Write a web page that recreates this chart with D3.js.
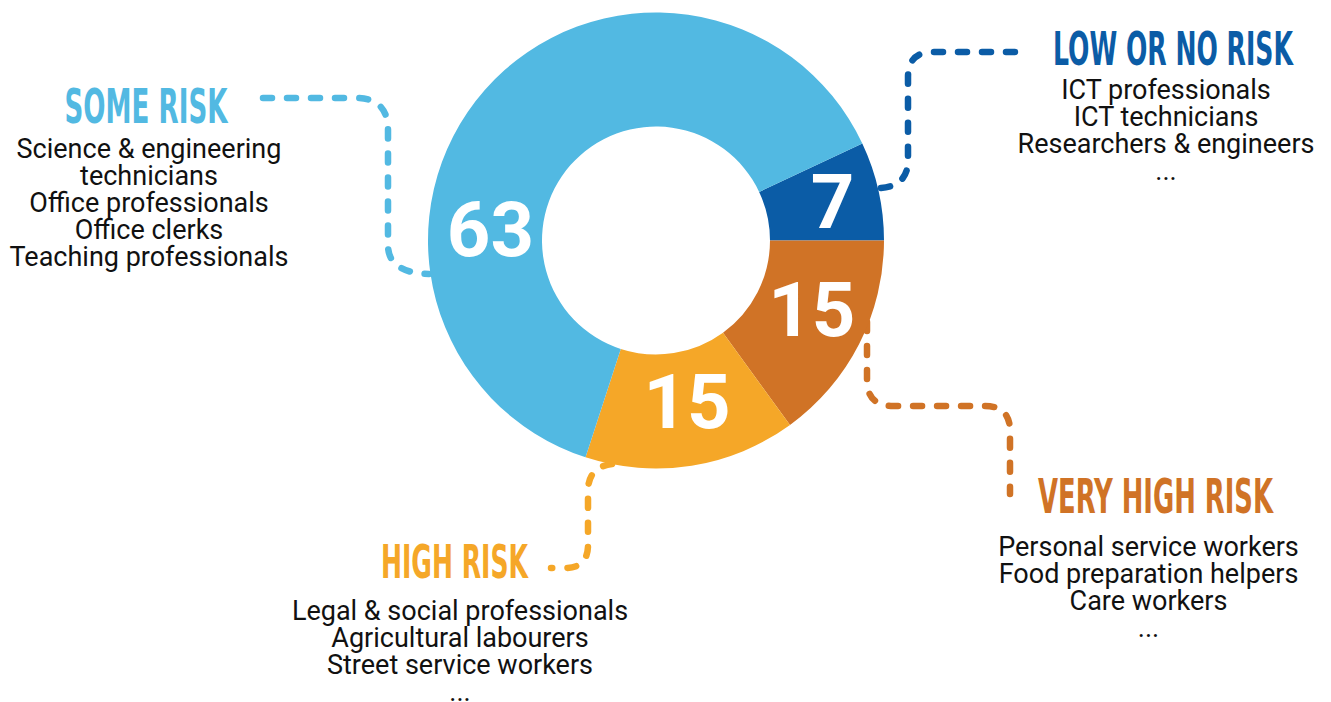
<!DOCTYPE html>
<html>
<head>
<meta charset="utf-8">
<script src="https://cdn.jsdelivr.net/npm/d3@7"></script>
<style>
  html, body { margin: 0; padding: 0; background: #fff; }
  svg { display: block; }
</style>
</head>
<body>
<svg id="chart" width="1331" height="702"></svg>
<script>
// ---- data ----
const categories = ["Low or no risk", "Very high risk", "High risk", "Some risk"];
const shares = [7, 15, 15, 63];
const titles = ["LOW OR NO RISK", "VERY HIGH RISK", "HIGH RISK", "SOME RISK"];
const occupations = [
  ["ICT professionals", "ICT technicians", "Researchers & engineers", "..."],
  ["Personal service workers", "Food preparation helpers", "Care workers", "..."],
  ["Legal & social professionals", "Agricultural labourers", "Street service workers", "..."],
  ["Science & engineering", "technicians", "Office professionals", "Office clerks", "Teaching professionals"]
];

// ---- styling / layout ----
const colors = ["#0B5CA6", "#D07326", "#F5A728", "#52B9E2"];
const cx = 656, cy = 240.5, rOuter = 228, rInner = 114;
const numFont = 76;
const bodyFont = 27;
// label nudges (angle shift in degrees, radius) for the value labels
const labelShift = [0, -3.4, -2, -37.4];
const labelRadius = [181, 170, 163, 166];
// title blocks: center x, title baseline, title width, font size, list center x, first list baseline
const blocks = [
  {x: 1173, tb: 65, tw: 240, fs: 46, bx: 1166, b0: 99},
  {x: 1155.5, tb: 513, tw: 235, fs: 48, bx: 1148.5, b0: 556},
  {x: 454.5, tb: 578, tw: 147, fs: 46, bx: 460, b0: 620},
  {x: 146, tb: 123, tw: 163, fs: 48, bx: 149, b0: 158}
];
const leaders = [
  "M1015,52 H933 Q908,52 908,77 V160 Q908,186 881,188",
  "M867,322 V380 Q867,406 893,406 H985 Q1010,406 1010,431 V494",
  "M612,464 Q588,467 588,491 V545 Q588,568 565,568 H551",
  "M263,98 H356 Q388,98 388,130 V245 Q388,273 429,274"
];

const svg = d3.select("#chart");
const total = d3.sum(shares);
const start = Math.PI / 2 - shares[0] / total * 2 * Math.PI;
const pie = d3.pie().sort(null).value(d => d).startAngle(start).endAngle(start + 2 * Math.PI);
const arcs = pie(shares);
const arc = d3.arc().innerRadius(rInner).outerRadius(rOuter);

// leader lines (behind donut)
svg.append("g").selectAll("path").data(leaders).join("path")
  .attr("d", d => d)
  .attr("fill", "none")
  .attr("stroke", (d, i) => colors[i])
  .attr("stroke-width", 6.5)
  .attr("stroke-linecap", "round")
  .attr("stroke-dasharray", "9 15");

const g = svg.append("g").attr("transform", `translate(${cx},${cy})`);
g.selectAll("path").data(arcs).join("path")
  .attr("d", arc)
  .attr("fill", (d, i) => colors[i]);

g.selectAll("text").data(arcs).join("text")
  .attr("transform", (d, i) => {
    const a = (d.startAngle + d.endAngle) / 2 + labelShift[i] * Math.PI / 180;
    const r = labelRadius[i];
    return `translate(${r * Math.sin(a)},${-r * Math.cos(a) + 0.36 * numFont})`;
  })
  .attr("text-anchor", "middle")
  .attr("font-family", "Roboto, sans-serif")
  .attr("font-weight", 700)
  .attr("font-size", numFont)
  .attr("fill", "#fff")
  .text(d => d.data);

// titles and occupation lists
const lab = svg.append("g").selectAll("g").data(categories).join("g");
lab.append("text")
  .attr("text-anchor", "middle")
  .attr("font-family", "'Liberation Sans Narrow', 'DejaVu Sans Condensed', sans-serif")
  .attr("font-weight", 700)
  .attr("font-size", (d, i) => blocks[i].fs)
  .attr("fill", (d, i) => colors[i])
  .text((d, i) => titles[i])
  .each(function(d, i) {
    const w = this.getComputedTextLength();
    const b = blocks[i];
    d3.select(this).attr("transform", `translate(${b.x},${b.tb}) scale(${b.tw / w},1)`);
  });

lab.each(function(d, i) {
  d3.select(this).selectAll("text.occ").data(occupations[i]).join("text")
    .attr("class", "occ")
    .attr("x", blocks[i].bx)
    .attr("y", (t, j) => blocks[i].b0 + j * 27)
    .attr("text-anchor", "middle")
    .attr("font-family", "Roboto, sans-serif")
    .attr("font-size", bodyFont)
    .attr("fill", "#111")
    .text(t => t);
});
</script>
</body>
</html>
